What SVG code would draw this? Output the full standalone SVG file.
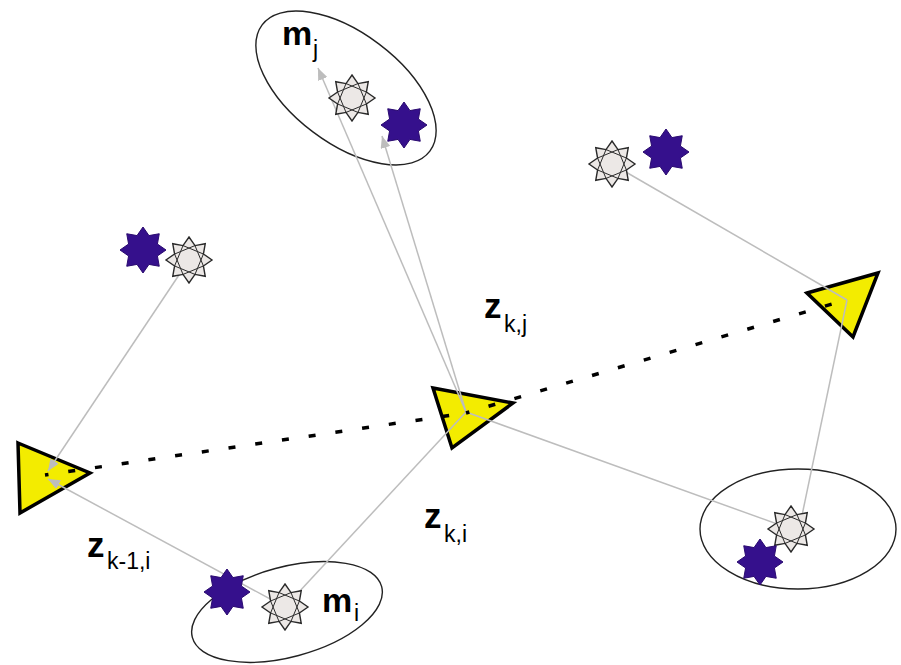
<svg xmlns="http://www.w3.org/2000/svg" width="901" height="665" viewBox="0 0 901 665">
<style>
.ell{fill:none;stroke:#222;stroke-width:1.4}
.tri{fill:#f3ec00;stroke:#000;stroke-width:3.5;stroke-linejoin:miter}
.gl{stroke:#bdbdbd;stroke-width:1.5;fill:none}
.dot{stroke:#000;stroke-width:3.5;stroke-dasharray:7 20;stroke-dashoffset:3.5;fill:none}
.lbl{font-family:"Liberation Sans",Arial,sans-serif;font-weight:bold;fill:#000}
.sub{font-family:"Liberation Sans",Arial,sans-serif;font-size:23px;fill:#000}
</style>
<defs>
<marker id="ah" viewBox="0 0 12 10" refX="12" refY="5" markerWidth="12" markerHeight="10" markerUnits="userSpaceOnUse" orient="auto">
<path d="M0,0 L12,5 L0,10 z" fill="#bdbdbd"/>
</marker>
<g id="gs">
<polygon points="0,-23 5.98,-14.41 16.26,-16.26 14.41,-5.98 23,0 14.41,5.98 16.26,16.26 5.98,14.41 0,23 -5.98,14.41 -16.26,16.26 -14.41,5.98 -23,0 -14.41,-5.98 -16.26,-16.26 -5.98,-14.41" fill="#ece8e6" stroke="#2a2a2a" stroke-width="1.4"/>
<polygon points="5.98,-14.41 14.41,5.98 -5.98,14.41 -14.41,-5.98" fill="none" stroke="#2a2a2a" stroke-width="1"/>
<polygon points="14.41,-5.98 5.98,14.41 -14.41,5.98 -5.98,-14.41" fill="none" stroke="#2a2a2a" stroke-width="1"/>
</g>
<g id="ps">
<polygon points="0,-23 5.98,-14.41 16.26,-16.26 14.41,-5.98 23,0 14.41,5.98 16.26,16.26 5.98,14.41 0,23 -5.98,14.41 -16.26,16.26 -14.41,5.98 -23,0 -14.41,-5.98 -16.26,-16.26 -5.98,-14.41" fill="#35108c" stroke="#2a0a70" stroke-width="1"/>
</g>
</defs>
<rect width="901" height="665" fill="#fff"/>

<g id="ellipse-mj"><ellipse class="ell" cx="346" cy="88" rx="105" ry="55" transform="rotate(37 346 88)"/></g>
<g id="ellipse-mi"><ellipse class="ell" cx="287" cy="612" rx="98" ry="45" transform="rotate(-15 287 612)"/></g>
<g id="ellipse-right"><ellipse class="ell" cx="798" cy="529" rx="98" ry="60"/></g>

<g id="pose-left"><polygon class="tri" points="18,443 90,473 20,513"/></g>
<g id="pose-mid"><polygon class="tri" points="433,388 513,403 452,448"/></g>
<g id="pose-right"><polygon class="tri" points="807,293 878,273 853,337"/></g>

<g id="connectors">
<line class="gl" x1="466" y1="412" x2="318" y2="68" marker-end="url(#ah)"/>
<line class="gl" x1="466" y1="412" x2="382" y2="136" marker-end="url(#ah)"/>
<line class="gl" x1="466" y1="412" x2="285" y2="607"/>
<line class="gl" x1="466" y1="412" x2="791" y2="529"/>
<line class="gl" x1="189" y1="260" x2="48" y2="471" marker-end="url(#ah)"/>
<line class="gl" x1="285" y1="607" x2="48" y2="479" marker-end="url(#ah)"/>
<line class="gl" x1="612" y1="164" x2="847" y2="300"/>
<line class="gl" x1="847" y1="300" x2="800" y2="525"/>
<line class="dot" x1="45" y1="475" x2="466" y2="413"/>
<line class="dot" x1="466" y1="413" x2="832" y2="304"/>
</g>

<g id="star-mj-gray"><use href="#gs" transform="translate(352,98)"/></g>
<g id="star-mj-purple"><use href="#ps" transform="translate(404,125)"/></g>
<g id="star-left-purple"><use href="#ps" transform="translate(143,250)"/></g>
<g id="star-left-gray"><use href="#gs" transform="translate(189,260)"/></g>
<g id="star-tr-gray"><use href="#gs" transform="translate(612,164)"/></g>
<g id="star-tr-purple"><use href="#ps" transform="translate(666,152)"/></g>
<g id="star-right-gray"><use href="#gs" transform="translate(791,529)"/></g>
<g id="star-right-purple"><use href="#ps" transform="translate(760,562)"/></g>
<g id="star-mi-gray"><use href="#gs" transform="translate(285,607)"/></g>
<g id="star-mi-purple"><use href="#ps" transform="translate(227,592)"/></g>

<g id="labels">
<text class="lbl" x="282" y="45" font-size="34">m</text><text class="sub" x="313" y="57">j</text>
<text class="lbl" x="322" y="612" font-size="34">m</text><text class="sub" x="354" y="621">i</text>
<text class="lbl" x="484" y="318" font-size="35">z</text><text class="sub" x="504" y="332">k,j</text>
<text class="lbl" x="424" y="528" font-size="35">z</text><text class="sub" x="444" y="542">k,i</text>
<text class="lbl" x="87" y="557" font-size="35">z</text><text class="sub" x="107" y="569">k-1,i</text>
</g>
</svg>
